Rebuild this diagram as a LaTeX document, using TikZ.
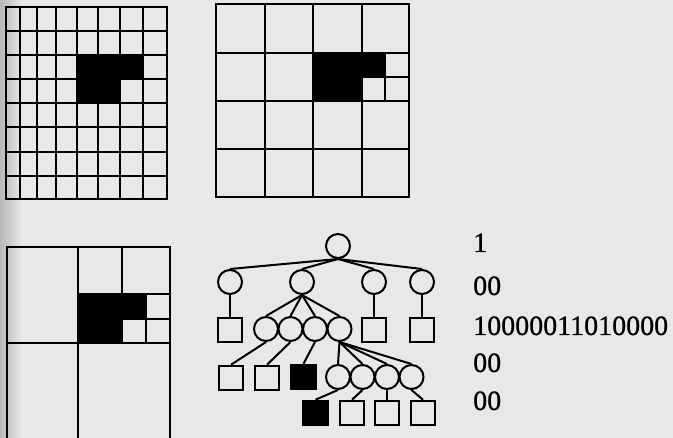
\documentclass[tikz,border=0pt]{standalone}
\usepackage{fontspec}
\setmainfont{Liberation Serif}
\newfontfamily\codefont[FakeBold=0.8]{Liberation Serif}
\begin{document}
\begin{tikzpicture}[x=1pt,y=-1pt,
  gridline/.style={line width=2.2pt,line cap=rect},
  circ/.style={draw,circle,line width=2pt,minimum size=24pt,inner sep=0pt},
  sqr/.style={draw,rectangle,line width=2pt,minimum size=24.5pt,inner sep=0pt},
  blk/.style={sqr,fill=black},
  edge/.style={line width=2pt},
  code/.style={anchor=base west,inner sep=0pt,font=\codefont\fontsize{28}{28}\selectfont}]
\definecolor{pagegray}{RGB}{232,232,232}
\definecolor{edgegray}{RGB}{185,185,185}
\useasboundingbox (0,0) rectangle (673,438);
\clip (0,0) rectangle (673,438);
\fill[pagegray] (0,0) rectangle (673,438);
\shade[left color=edgegray,right color=pagegray] (0,0) rectangle (22,438);

% ---------- grid 1 (8x8) ----------
\fill[black] (77,55) rectangle (143,79);
\fill[black] (77,79) rectangle (120,103);
\foreach \x in {6,20,37,56,77,98,120,143,167} \draw[gridline] (\x,7) -- (\x,199);
\foreach \y in {7,31,55,79,103,127,152,176,199} \draw[gridline] (6,\y) -- (167,\y);

% ---------- grid 2 (quadtree 4x4) ----------
\fill[black] (313,53) rectangle (385,77);
\fill[black] (313,77) rectangle (362,101);
\foreach \x in {216,265,313,362,409} \draw[gridline] (\x,4) -- (\x,197);
\foreach \y in {4,53,101,149,197} \draw[gridline] (216,\y) -- (409,\y);
\draw[gridline] (385,53) -- (385,101);
\draw[gridline] (362,77) -- (409,77);

% ---------- grid 3 (quadtree) ----------
\fill[black] (78,294) rectangle (146,319);
\fill[black] (78,319) rectangle (122,343);
\draw[gridline] (7,247) rectangle (170,440);
\draw[gridline] (78,247) -- (78,440);
\draw[gridline] (7,343) -- (170,343);
\draw[gridline] (122,247) -- (122,343);
\draw[gridline] (78,294) -- (170,294);
\draw[gridline] (146,294) -- (146,343);
\draw[gridline] (122,319) -- (170,319);

% ---------- tree ----------
\node[circ] (r) at (338,246) {};
\node[circ] (a) at (230,282) {};
\node[circ] (b) at (302,282) {};
\node[circ] (c) at (374,282) {};
\node[circ] (d) at (422,282) {};

\node[sqr] (a1) at (230,330) {};
\node[circ] (b1) at (266,329) {};
\node[circ] (b2) at (290.5,329) {};
\node[circ] (b3) at (315,329) {};
\node[circ] (b4) at (339.5,329) {};
\node[sqr] (c1) at (374,330) {};
\node[sqr] (d1) at (422,330) {};

\node[sqr] (b1a) at (231,378) {};
\node[sqr] (b2a) at (267,378) {};
\node[blk] (b3a) at (303.5,377) {};
\node[circ] (e1) at (338,377) {};
\node[circ] (e2) at (362.5,377) {};
\node[circ] (e3) at (387,377) {};
\node[circ] (e4) at (411.5,377) {};

\node[blk] (e1a) at (315.5,413) {};
\node[sqr] (e2a) at (352,413) {};
\node[sqr] (e3a) at (387,413) {};
\node[sqr] (e4a) at (423,413) {};

\foreach \p/\c in {r/a,r/b,r/c,r/d,a/a1,b/b1,b/b2,b/b3,b/b4,c/c1,d/d1,
                   b1/b1a,b2/b2a,b3/b3a,b4/e1,b4/e2,b4/e3,b4/e4,
                   e1/e1a,e2/e2a,e3/e3a,e4/e4a}
  \draw[edge] (\p.south) -- (\c.north);

% ---------- codes ----------
\node[code] (t1) at (473,252) {1};
\node[code] (t2) at (473,295) {00};
\node[code] (t3) at (473,335) {10000011010000};
\node[code] (t4) at (473,372) {00};
\node[code] (t5) at (473,410) {00};
\end{tikzpicture}
\end{document}
